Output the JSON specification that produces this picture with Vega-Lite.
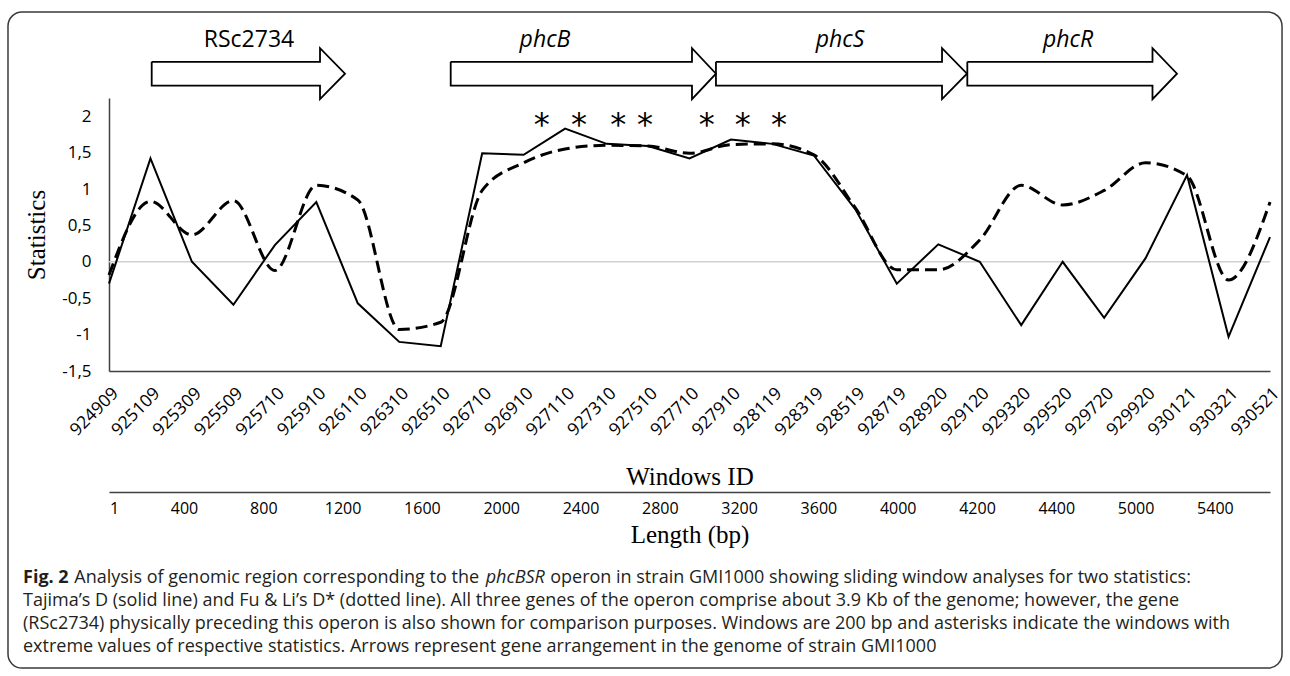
{
  "$schema": "https://vega.github.io/schema/vega-lite/v6.json",
  "width": 1161,
  "height": 273,
  "autosize": {"type": "none"},
  "padding": {"left": 109, "top": 98, "right": 20, "bottom": 305},
  "background": "white",
  "config": {"view": {"stroke": null}, "font": "Open Sans", "axis": {"labelOverlap": false, "labelFlush": false}},
  "datasets": {
    "windows": [
      {"id": "924909", "i": 0, "tajima": -0.30, "fuli": -0.18},
      {"id": "925109", "i": 1, "tajima": 1.42, "fuli": 0.83},
      {"id": "925309", "i": 2, "tajima": 0.00, "fuli": 0.37},
      {"id": "925509", "i": 3, "tajima": -0.59, "fuli": 0.84},
      {"id": "925710", "i": 4, "tajima": 0.23, "fuli": -0.12},
      {"id": "925910", "i": 5, "tajima": 0.82, "fuli": 1.05},
      {"id": "926110", "i": 6, "tajima": -0.57, "fuli": 0.85},
      {"id": "926310", "i": 7, "tajima": -1.10, "fuli": -0.93},
      {"id": "926510", "i": 8, "tajima": -1.16, "fuli": -0.83},
      {"id": "926710", "i": 9, "tajima": 1.49, "fuli": 0.98},
      {"id": "926910", "i": 10, "tajima": 1.47, "fuli": 1.36},
      {"id": "927110", "i": 11, "tajima": 1.83, "fuli": 1.55},
      {"id": "927310", "i": 12, "tajima": 1.62, "fuli": 1.60},
      {"id": "927510", "i": 13, "tajima": 1.59, "fuli": 1.59},
      {"id": "927710", "i": 14, "tajima": 1.42, "fuli": 1.49},
      {"id": "927910", "i": 15, "tajima": 1.68, "fuli": 1.61},
      {"id": "928119", "i": 16, "tajima": 1.62, "fuli": 1.62},
      {"id": "928319", "i": 17, "tajima": 1.46, "fuli": 1.47},
      {"id": "928519", "i": 18, "tajima": 0.72, "fuli": 0.74},
      {"id": "928719", "i": 19, "tajima": -0.30, "fuli": -0.11},
      {"id": "928920", "i": 20, "tajima": 0.24, "fuli": -0.11},
      {"id": "929120", "i": 21, "tajima": 0.00, "fuli": 0.30},
      {"id": "929320", "i": 22, "tajima": -0.87, "fuli": 1.05},
      {"id": "929520", "i": 23, "tajima": 0.00, "fuli": 0.78},
      {"id": "929720", "i": 24, "tajima": -0.77, "fuli": 0.98},
      {"id": "929920", "i": 25, "tajima": 0.05, "fuli": 1.36},
      {"id": "930121", "i": 26, "tajima": 1.19, "fuli": 1.18},
      {"id": "930321", "i": 27, "tajima": -1.03, "fuli": -0.25},
      {"id": "930521", "i": 28, "tajima": 0.34, "fuli": 0.82}
    ],
    "arrows": [
      {"gene": "RSc2734", "k": 0, "x": 1.030, "y": 2.747},
      {"gene": "RSc2734", "k": 1, "x": 5.089, "y": 2.747},
      {"gene": "RSc2734", "k": 2, "x": 5.089, "y": 2.934},
      {"gene": "RSc2734", "k": 3, "x": 5.692, "y": 2.584},
      {"gene": "RSc2734", "k": 4, "x": 5.089, "y": 2.234},
      {"gene": "RSc2734", "k": 5, "x": 5.089, "y": 2.420},
      {"gene": "RSc2734", "k": 6, "x": 1.030, "y": 2.420},
      {"gene": "RSc2734", "k": 7, "x": 1.030, "y": 2.747},
      {"gene": "phcB", "k": 0, "x": 8.241, "y": 2.747},
      {"gene": "phcB", "k": 1, "x": 14.060, "y": 2.747},
      {"gene": "phcB", "k": 2, "x": 14.060, "y": 2.934},
      {"gene": "phcB", "k": 3, "x": 14.638, "y": 2.584},
      {"gene": "phcB", "k": 4, "x": 14.060, "y": 2.234},
      {"gene": "phcB", "k": 5, "x": 14.060, "y": 2.420},
      {"gene": "phcB", "k": 6, "x": 8.241, "y": 2.420},
      {"gene": "phcB", "k": 7, "x": 8.241, "y": 2.747},
      {"gene": "phcS", "k": 0, "x": 14.638, "y": 2.747},
      {"gene": "phcS", "k": 1, "x": 20.090, "y": 2.747},
      {"gene": "phcS", "k": 2, "x": 20.090, "y": 2.934},
      {"gene": "phcS", "k": 3, "x": 20.692, "y": 2.584},
      {"gene": "phcS", "k": 4, "x": 20.090, "y": 2.234},
      {"gene": "phcS", "k": 5, "x": 20.090, "y": 2.420},
      {"gene": "phcS", "k": 6, "x": 14.638, "y": 2.420},
      {"gene": "phcS", "k": 7, "x": 14.638, "y": 2.747},
      {"gene": "phcR", "k": 0, "x": 20.700, "y": 2.747},
      {"gene": "phcR", "k": 1, "x": 25.166, "y": 2.747},
      {"gene": "phcR", "k": 2, "x": 25.166, "y": 2.934},
      {"gene": "phcR", "k": 3, "x": 25.757, "y": 2.584},
      {"gene": "phcR", "k": 4, "x": 25.166, "y": 2.234},
      {"gene": "phcR", "k": 5, "x": 25.166, "y": 2.420},
      {"gene": "phcR", "k": 6, "x": 20.700, "y": 2.420},
      {"gene": "phcR", "k": 7, "x": 20.700, "y": 2.747}
    ],
    "genes": [
      {"gene": "RSc2734", "mid": 3.376},
      {"gene": "phcB", "mid": 10.515},
      {"gene": "phcS", "mid": 17.63},
      {"gene": "phcR", "mid": 23.129}
    ],
    "stars": [
      {"pos": 10.435}, {"pos": 11.335}, {"pos": 12.283}, {"pos": 12.927},
      {"pos": 14.415}, {"pos": 15.283}, {"pos": 16.159}
    ],
    "lengths": [
      {"k": 0.117, "bp": 1}, {"k": 1, "bp": 400}, {"k": 2, "bp": 800}, {"k": 3, "bp": 1200},
      {"k": 4, "bp": 1600}, {"k": 5, "bp": 2000}, {"k": 6, "bp": 2400}, {"k": 7, "bp": 2800},
      {"k": 8, "bp": 3200}, {"k": 9, "bp": 3600}, {"k": 10, "bp": 4000}, {"k": 11, "bp": 4200},
      {"k": 12, "bp": 4400}, {"k": 13, "bp": 5000}, {"k": 14, "bp": 5400}
    ]
  },
  "resolve": {"scale": {"x": "independent"}},
  "layer": [
    {
      "layer": [
        {
          "data": {"values": [{}]},
          "mark": {"type": "rect", "fillOpacity": 0, "stroke": "#3a3a3a", "strokeWidth": 1.5, "cornerRadius": 14},
          "encoding": {
            "x": {"datum": -2.436, "type": "quantitative"},
            "x2": {"datum": 28.29},
            "y": {"datum": 3.431, "type": "quantitative"},
            "y2": {"datum": -5.58}
          }
        },
        {
          "data": {"values": [{}]},
          "mark": {"type": "rule", "color": "#d0d0d0", "strokeWidth": 1.5},
          "encoding": {
            "x": {"datum": 0, "type": "quantitative"},
            "x2": {"datum": 28},
            "y": {"datum": 0, "type": "quantitative"}
          }
        },
        {
          "data": {"name": "windows"},
          "mark": {"type": "line", "color": "#000000", "strokeWidth": 2},
          "encoding": {
            "x": {
              "field": "i", "type": "quantitative", "title": "Windows ID",
              "scale": {"domain": [0, 28], "nice": false, "zero": false},
              "axis": {
                "values": [0,1,2,3,4,5,6,7,8,9,10,11,12,13,14,15,16,17,18,19,20,21,22,23,24,25,26,27,28],
                "labelExpr": "['924909','925109','925309','925509','925710','925910','926110','926310','926510','926710','926910','927110','927310','927510','927710','927910','928119','928319','928519','928719','928920','929120','929320','929520','929720','929920','930121','930321','930521'][datum.value]",
                "labelAngle": -45, "labelAlign": "right", "labelBaseline": "top",
                "labelPadding": 13, "ticks": false, "tickSize": 0, "grid": false,
                "domainColor": "#404040", "domainWidth": 1.5,
                "labelFont": "Open Sans", "labelFontSize": 17.5, "labelColor": "#000000",
                "labelOverlap": false, "labelFlush": false, "labelBound": false,
                "titleFont": "Liberation Serif", "titleFontSize": 25, "titleFontWeight": "normal",
                "titleColor": "#000000", "titlePadding": 26
              }
            },
            "y": {
              "field": "tajima", "type": "quantitative", "title": "Statistics",
              "scale": {"domain": [-1.5, 2.25], "nice": false, "zero": false},
              "axis": {
                "tickCount": 8,
                "labelExpr": "['-1,5','-1','-0,5','0','0,5','1','1,5','2'][round(datum.value * 2) + 3]",
                "ticks": false, "tickSize": 0, "grid": false,
                "domainColor": "#404040", "domainWidth": 1.5,
                "labelPadding": 18, "labelFont": "Open Sans", "labelFontSize": 17,
                "labelColor": "#000000", "labelFlush": false, "labelOverlap": false,
                "titleFont": "Liberation Serif", "titleFontSize": 25, "titleFontWeight": "normal",
                "titleColor": "#000000", "titlePadding": 12
              }
            }
          }
        },
        {
          "data": {"name": "windows"},
          "mark": {"type": "line", "color": "#000000", "strokeWidth": 3, "strokeDash": [12, 6], "interpolate": "monotone"},
          "encoding": {
            "x": {"field": "i", "type": "quantitative", "title": "Windows ID"},
            "y": {"field": "fuli", "type": "quantitative", "title": "Statistics"}
          }
        },
        {
          "data": {"name": "arrows"},
          "mark": {"type": "line", "color": "#000000", "strokeWidth": 1.8, "strokeJoin": "miter"},
          "encoding": {
            "x": {"field": "x", "type": "quantitative", "title": "Windows ID"},
            "y": {"field": "y", "type": "quantitative", "title": "Statistics"},
            "detail": {"field": "gene"},
            "order": {"field": "k"}
          }
        },
        {
          "data": {"name": "genes"},
          "transform": [{"filter": "datum.gene === 'RSc2734'"}],
          "mark": {"type": "text", "font": "Open Sans", "fontSize": 23, "baseline": "middle", "align": "center", "color": "#000000"},
          "encoding": {
            "x": {"field": "mid", "type": "quantitative", "title": "Windows ID"},
            "y": {"datum": 3.047, "type": "quantitative"},
            "text": {"field": "gene"}
          }
        },
        {
          "data": {"name": "genes"},
          "transform": [{"filter": "datum.gene !== 'RSc2734'"}],
          "mark": {"type": "text", "font": "Open Sans", "fontSize": 23, "fontStyle": "italic", "baseline": "middle", "align": "center", "color": "#000000"},
          "encoding": {
            "x": {"field": "mid", "type": "quantitative", "title": "Windows ID"},
            "y": {"datum": 3.047, "type": "quantitative"},
            "text": {"field": "gene"}
          }
        },
        {
          "data": {"name": "stars"},
          "mark": {"type": "text", "text": "*", "font": "DejaVu Sans", "fontSize": 32, "baseline": "alphabetic", "align": "center", "color": "#000000"},
          "encoding": {
            "x": {"field": "pos", "type": "quantitative", "title": "Windows ID"},
            "y": {"datum": 1.735, "type": "quantitative"}
          }
        },
        {
          "data": {"values": [{"t": "Fig. 2"}]},
          "mark": {"type": "text", "font": "Open Sans", "fontSize": 18, "fontWeight": "bold", "align": "left", "baseline": "middle", "color": "#231f20"},
          "encoding": {"x": {"datum": -2.074, "type": "quantitative"}, "y": {"datum": -4.343, "type": "quantitative"}, "text": {"field": "t"}}
        },
        {
          "data": {"values": [{"t": "Analysis of genomic region corresponding to the"}]},
          "mark": {"type": "text", "font": "Open Sans", "fontSize": 18, "align": "left", "baseline": "middle", "color": "#231f20"},
          "encoding": {"x": {"datum": -0.837, "type": "quantitative"}, "y": {"datum": -4.343, "type": "quantitative"}, "text": {"field": "t"}}
        },
        {
          "data": {"values": [{"t": "phcBSR"}]},
          "mark": {"type": "text", "font": "Open Sans", "fontSize": 18, "fontStyle": "italic", "align": "left", "baseline": "middle", "color": "#231f20"},
          "encoding": {"x": {"datum": 9.085, "type": "quantitative"}, "y": {"datum": -4.343, "type": "quantitative"}, "text": {"field": "t"}}
        },
        {
          "data": {"values": [{"t": "operon in strain GMI1000 showing sliding window analyses for two statistics:"}]},
          "mark": {"type": "text", "font": "Open Sans", "fontSize": 18, "align": "left", "baseline": "middle", "color": "#231f20"},
          "encoding": {"x": {"datum": 10.64, "type": "quantitative"}, "y": {"datum": -4.343, "type": "quantitative"}, "text": {"field": "t"}}
        },
        {
          "data": {"values": [{"t": "Tajima’s D (solid line) and Fu & Li’s D* (dotted line). All three genes of the operon comprise about 3.9 Kb of the genome; however, the gene"}]},
          "mark": {"type": "text", "font": "Open Sans", "fontSize": 18, "align": "left", "baseline": "middle", "color": "#231f20"},
          "encoding": {"x": {"datum": -2.074, "type": "quantitative"}, "y": {"datum": -4.659, "type": "quantitative"}, "text": {"field": "t"}}
        },
        {
          "data": {"values": [{"t": "(RSc2734) physically preceding this operon is also shown for comparison purposes. Windows are 200 bp and asterisks indicate the windows with"}]},
          "mark": {"type": "text", "font": "Open Sans", "fontSize": 18, "align": "left", "baseline": "middle", "color": "#231f20"},
          "encoding": {"x": {"datum": -2.074, "type": "quantitative"}, "y": {"datum": -4.975, "type": "quantitative"}, "text": {"field": "t"}}
        },
        {
          "data": {"values": [{"t": "extreme values of respective statistics. Arrows represent gene arrangement in the genome of strain GMI1000"}]},
          "mark": {"type": "text", "font": "Open Sans", "fontSize": 18, "align": "left", "baseline": "middle", "color": "#231f20"},
          "encoding": {"x": {"datum": -2.074, "type": "quantitative"}, "y": {"datum": -5.291, "type": "quantitative"}, "text": {"field": "t"}}
        }
      ]
    },
    {
      "data": {"name": "lengths"},
      "mark": {"type": "point", "opacity": 0},
      "encoding": {
        "x": {
          "field": "k", "type": "quantitative", "title": "Length (bp)",
          "scale": {"domain": [0.0542, 14.695], "nice": false, "zero": false},
          "axis": {
            "orient": "bottom", "offset": 121,
            "values": [0.117, 1, 2, 3, 4, 5, 6, 7, 8, 9, 10, 11, 12, 13, 14],
            "labelExpr": "['1','400','800','1200','1600','2000','2400','2800','3200','3600','4000','4200','4400','5000','5400'][round(datum.value)]",
            "ticks": false, "tickSize": 0, "grid": false,
            "domainColor": "#404040", "domainWidth": 1.5,
            "labelPadding": 8, "labelFont": "Open Sans", "labelFontSize": 16, "labelColor": "#000000",
            "labelFlush": false, "labelOverlap": false,
            "titleFont": "Liberation Serif", "titleFontSize": 25, "titleFontWeight": "normal",
            "titleColor": "#000000", "titlePadding": 6
          }
        }
      }
    }
  ]
}
